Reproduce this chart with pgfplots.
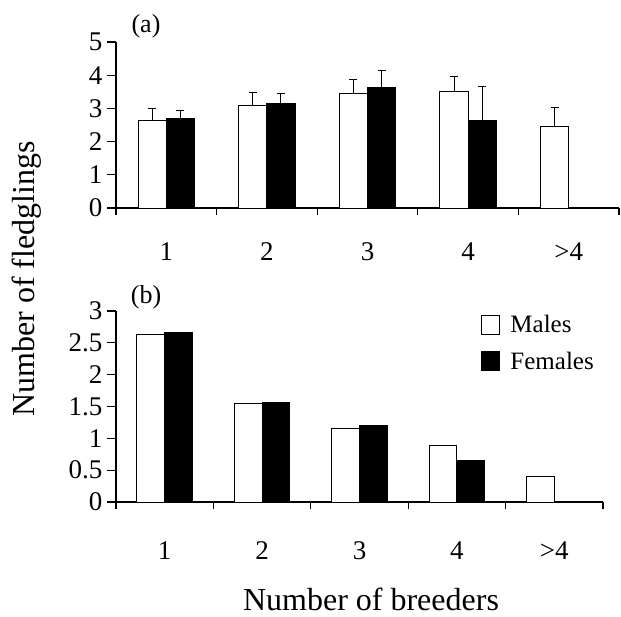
\documentclass[border=0pt]{standalone}
\usepackage{fontspec}
\setmainfont{Liberation Serif}
\usepackage{pgfplots}
\usepackage{pgfplotstable}
\pgfplotsset{compat=1.18}

\pgfplotstableread{
x y e
0 2.64 0.37
1 3.09 0.40
2 3.45 0.41
3 3.50 0.47
4 2.44 0.60
}\amale
\pgfplotstableread{
x y e
0 2.70 0.24
1 3.16 0.29
2 3.63 0.50
3 2.65 1.02
}\afemale
\pgfplotstableread{
x y
0 2.63
1 1.545
2 1.15
3 0.88
4 0.40
}\bmale
\pgfplotstableread{
x y
0 2.67
1 1.565
2 1.20
3 0.655
}\bfemale

\pgfplotsset{
  panel/.style={
    scale only axis,
    axis lines*=left,
    axis line style={line width=1.2pt},
    xmin=-0.5, xmax=4.5,
    ymin=0,
    xtick={0,1,2,3,4},
    xticklabels={1,2,3,4,>4},
    minor xtick={-0.5,0.5,1.5,2.5,3.5,4.5},
    major x tick style={draw=none},
    minor tick length=7pt,
    major tick length=9pt,
    tick align=outside,
    tick style={line width=1.2pt, black},
    /pgf/number format/assume math mode=true,
    tick label style={font=\fontsize{27}{30}\selectfont},
    yticklabel style={xshift=-1pt},
    clip=false,
  },
}

\begin{document}
\begin{tikzpicture}[x=1pt,y=1pt]
\useasboundingbox (0,0) rectangle (621,-616);

% Panel (a)
\begin{axis}[panel,
  at={(116pt,-208pt)}, anchor=south west,
  width=503pt, height=166pt,
  ymax=5, ytick={0,1,2,3,4,5},
  xticklabel style={yshift=-22pt},
]
\addplot[ybar, bar width=0.28, bar shift=0, fill=white, draw=black, line width=1pt,
  error bars/.cd, y dir=plus, y explicit,
  error bar style={line width=1pt, black},
  error mark options={line width=1pt, black, mark size=4pt, rotate=90}]
  table[x expr=\thisrow{x}-0.14, y=y, y error=e] {\amale};
\addplot[ybar, bar width=0.28, bar shift=0, fill=black, draw=black, line width=1pt,
  error bars/.cd, y dir=plus, y explicit,
  error bar style={line width=1pt, black},
  error mark options={line width=1pt, black, mark size=4pt, rotate=90}]
  table[x expr=\thisrow{x}+0.14, y=y, y error=e] {\afemale};
\end{axis}

% Panel (b)
\begin{axis}[panel,
  at={(116pt,-502pt)}, anchor=south west,
  width=487pt, height=191pt,
  ymax=3, ytick={0,0.5,1,1.5,2,2.5,3},
  yticklabels={0,0.5,1,1.5,2,2.5,3},
  xticklabel style={yshift=-27pt},
  legend style={at={(0.75,0.99)}, anchor=north west, draw=none, fill=none,
    font=\fontsize{25}{28}\selectfont, row sep=14pt, inner sep=0pt,
    /tikz/every odd column/.style={column sep=8pt}},
  legend cell align=left,
]
\draw[line width=1.2pt] (axis cs:-0.5,0) -- ++(-8pt,0);
\addplot[ybar, bar width=0.285, bar shift=-0.1425, fill=white, draw=black, line width=1pt,
  legend image code/.code={\draw[fill=white, draw=black, line width=1pt] (0pt,-9.5pt) rectangle (18pt,9.5pt);}]
  table[x=x, y=y] {\bmale};
\addlegendentry{Males}
\addplot[ybar, bar width=0.285, bar shift=0.1425, fill=black, draw=black, line width=1pt,
  legend image code/.code={\draw[fill=black, draw=black, line width=1pt] (0pt,-9.5pt) rectangle (18pt,9.5pt);}]
  table[x=x, y=y] {\bfemale};
\addlegendentry{Females}
\end{axis}

\node[font=\fontsize{26}{29}\selectfont] at (146,-26) {(a)};
\node[font=\fontsize{26}{29}\selectfont] at (146,-297) {(b)};
\node[font=\fontsize{32}{36}\selectfont, rotate=90] at (27,-279) {Number of fledglings};
\node[font=\fontsize{32}{36}\selectfont] at (371,-599) {Number of breeders};
\end{tikzpicture}
\end{document}
